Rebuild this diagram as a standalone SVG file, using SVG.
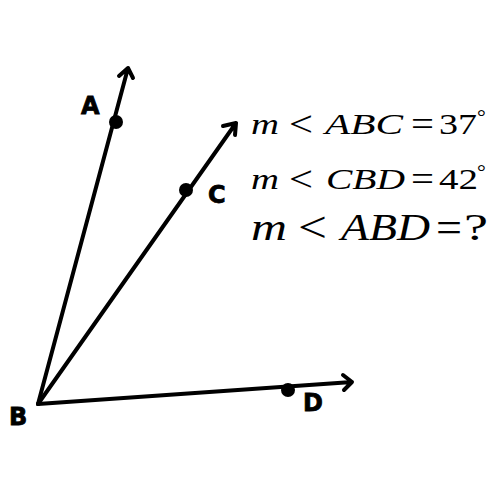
<svg xmlns="http://www.w3.org/2000/svg" width="500" height="500" viewBox="0 0 500 500">
<style>
.ray{stroke:#000;stroke-width:4;fill:none;stroke-linecap:round;stroke-linejoin:round}
.lbl{font-family:"DejaVu Sans",sans-serif;font-weight:900;font-size:24px;fill:#000;stroke:#000;stroke-width:0.8}
.math{font-family:"Liberation Serif",serif;fill:#000}
.it{font-style:italic}
.s1{font-size:29px}
.op1{font-size:36px}
.s3{font-size:37px}
.op3{font-size:44px}
</style>
<rect width="500" height="500" fill="#fff"/>
<g id="connectors">
<path class="ray" d="M38 404 L128 68 M119 76 L128 68 L133 78"/>
<path class="ray" d="M38 404 L236 123 M223 126 L236 123 L235 135"/>
<path class="ray" d="M38 404 L352 382 M343 375 L352 382 L344 390"/>
</g>
<g id="A"><circle cx="116" cy="122" r="7"/><text class="lbl" x="81" y="114">A</text></g>
<g id="C"><circle cx="186" cy="190" r="7"/><text class="lbl" x="208" y="203">C</text></g>
<g id="D"><circle cx="288" cy="390" r="7"/><text class="lbl" x="303" y="411">D</text></g>
<g id="B"><text class="lbl" x="9" y="425">B</text></g>
<g id="eq">
<text class="math s1 it" x="251" y="134" textLength="28" lengthAdjust="spacingAndGlyphs">m</text>
<text class="math op1" x="289" y="136" textLength="24" lengthAdjust="spacingAndGlyphs">&lt;</text>
<text class="math s1 it" x="325" y="134" textLength="78" lengthAdjust="spacingAndGlyphs">ABC</text>
<text class="math op1" x="411" y="136" textLength="23" lengthAdjust="spacingAndGlyphs">=</text>
<text class="math s1" x="439" y="134" textLength="38" lengthAdjust="spacingAndGlyphs">37</text>
<text class="math" x="477" y="124" font-size="22">°</text>
<text class="math s1 it" x="251" y="189" textLength="28" lengthAdjust="spacingAndGlyphs">m</text>
<text class="math op1" x="289" y="191" textLength="24" lengthAdjust="spacingAndGlyphs">&lt;</text>
<text class="math s1 it" x="326" y="189" textLength="79" lengthAdjust="spacingAndGlyphs">CBD</text>
<text class="math op1" x="411" y="191" textLength="23" lengthAdjust="spacingAndGlyphs">=</text>
<text class="math s1" x="439" y="189" textLength="39" lengthAdjust="spacingAndGlyphs">42</text>
<text class="math" x="477" y="179" font-size="22">°</text>
<text class="math s3 it" x="251" y="240" textLength="36" lengthAdjust="spacingAndGlyphs">m</text>
<text class="math op3" x="298" y="242" textLength="29" lengthAdjust="spacingAndGlyphs">&lt;</text>
<text class="math s3 it" x="341" y="240" textLength="89" lengthAdjust="spacingAndGlyphs">ABD</text>
<text class="math op3" x="436" y="242" textLength="26" lengthAdjust="spacingAndGlyphs">=</text>
<text class="math s3" x="464" y="240" textLength="24" lengthAdjust="spacingAndGlyphs">?</text>
</g>
</svg>
